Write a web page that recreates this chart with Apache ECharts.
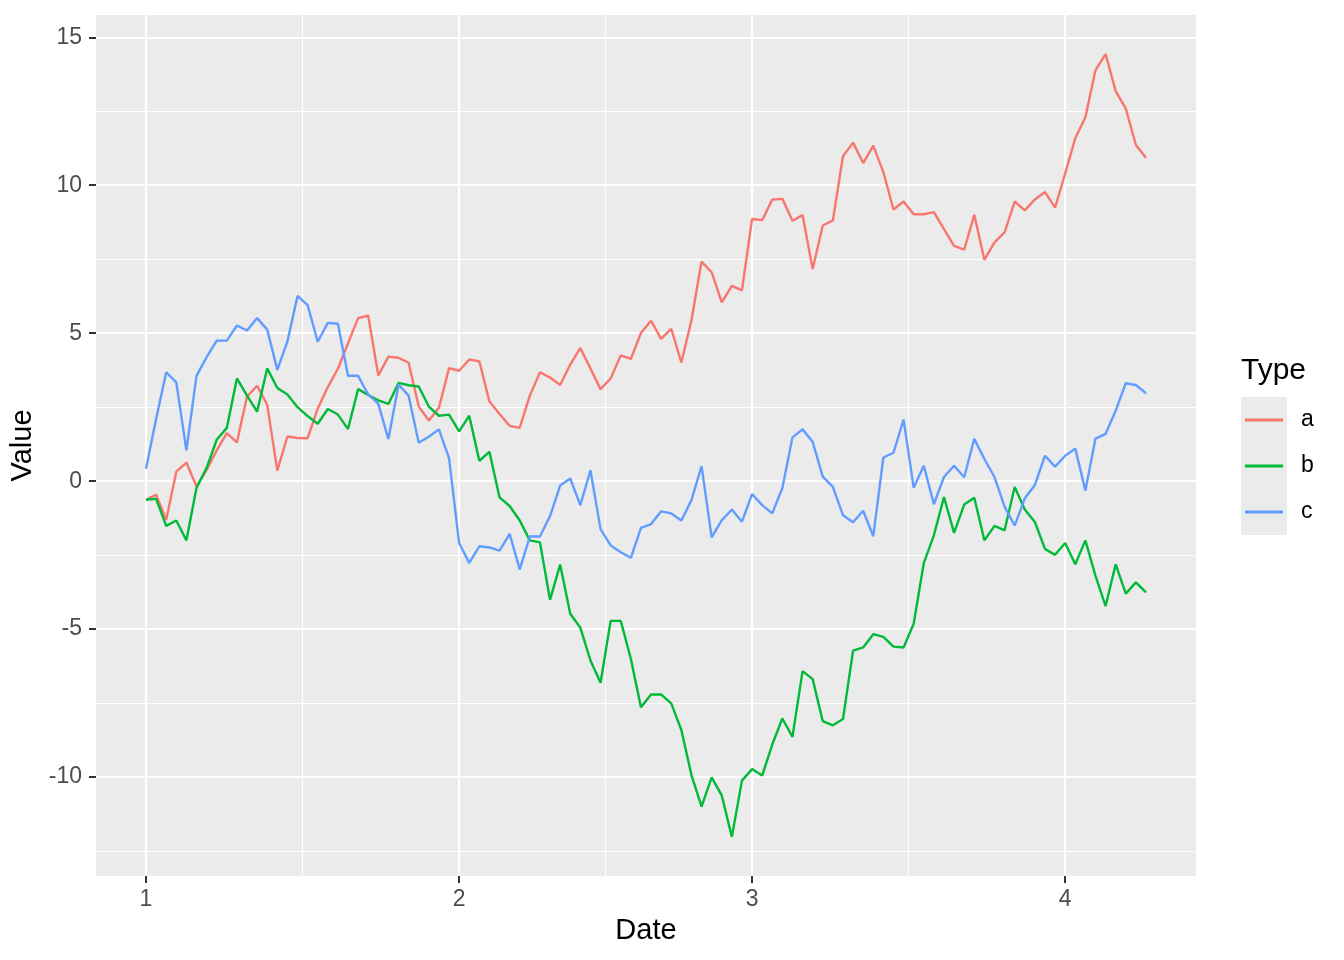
<!DOCTYPE html>
<html>
<head>
<meta charset="utf-8">
<script src="https://cdn.jsdelivr.net/npm/echarts@6/dist/echarts.min.js"></script>
<style>
html,body{margin:0;padding:0;background:#ffffff;}
#chart{width:1344px;height:960px;}
</style>
</head>
<body>
<div id="chart"></div>
<script>
// ---- data ----
const typeNames = ['a', 'b', 'c'];
const typeColors = ['#F8766D', '#00BA38', '#619CFF'];
// x = day offset from 2020-01-01 (one point per day)
const monthTickDays = [0, 31, 60, 91];
const monthTickLabels = ['1', '2', '3', '4'];
const midMonthDays = [15.5, 45.5, 75.5];
const valueTicks = [-10, -5, 0, 5, 10, 15];
const valueMinorTicks = [-12.5, -7.5, -2.5, 2.5, 7.5, 12.5];

const seriesA = [
  -0.63, -0.46, -1.31, 0.32, 0.63, -0.18, 0.38, 1.04, 1.62, 1.31,
  2.86, 3.22, 2.58, 0.36, 1.51, 1.46, 1.45, 2.45, 3.18, 3.80,
  4.66, 5.51, 5.59, 3.57, 4.21, 4.17, 4.00, 2.52, 2.05, 2.48,
  3.82, 3.73, 4.11, 4.05, 2.69, 2.27, 1.87, 1.80, 2.89, 3.68,
  3.50, 3.25, 3.94, 4.50, 3.81, 3.11, 3.47, 4.25, 4.13, 5.01,
  5.42, 4.81, 5.15, 4.01, 5.44, 7.42, 7.06, 6.04, 6.60, 6.45,
  8.86, 8.82, 9.52, 9.54, 8.80, 8.99, 7.17, 8.64, 8.81, 10.98,
  11.44, 10.75, 11.34, 10.44, 9.18, 9.45, 9.02, 9.02, 9.09, 8.52,
  7.95, 7.82, 9.00, 7.48, 8.07, 8.41, 9.45, 9.15, 9.52, 9.77,
  9.24, 10.40, 11.59, 12.30, 13.89, 14.43, 13.18, 12.59, 11.36, 10.93
];
const seriesB = [
  -0.63, -0.60, -1.51, -1.33, -2.00, -0.23, 0.45, 1.40, 1.80, 3.47,
  2.89, 2.35, 3.81, 3.15, 2.93, 2.50, 2.20, 1.94, 2.44, 2.25,
  1.76, 3.11, 2.91, 2.73, 2.61, 3.32, 3.24, 3.20, 2.52, 2.21,
  2.25, 1.68, 2.21, 0.69, 0.99, -0.55, -0.84, -1.33, -2.00, -2.07,
  -4.01, -2.82, -4.48, -4.95, -6.06, -6.81, -4.72, -4.72, -6.00, -7.64,
  -7.21, -7.21, -7.51, -8.41, -9.93, -11.00, -10.01, -10.62, -12.02, -10.12,
  -9.73, -9.95, -8.90, -8.02, -8.64, -6.42, -6.69, -8.11, -8.25, -8.04,
  -5.73, -5.62, -5.17, -5.26, -5.59, -5.62, -4.82, -2.77, -1.83, -0.54,
  -1.75, -0.79, -0.56, -2.00, -1.51, -1.66, -0.20, -0.96, -1.38, -2.29,
  -2.49, -2.09, -2.81, -2.00, -3.20, -4.22, -2.81, -3.80, -3.42, -3.76
];
const seriesC = [
  0.42, 2.10, 3.68, 3.34, 1.04, 3.56, 4.19, 4.75, 4.75, 5.26,
  5.09, 5.51, 5.12, 3.76, 4.72, 6.26, 5.95, 4.71, 5.35, 5.32,
  3.56, 3.56, 2.93, 2.61, 1.42, 3.26, 2.89, 1.30, 1.50, 1.75,
  0.78, -2.09, -2.76, -2.20, -2.24, -2.35, -1.78, -2.98, -1.87, -1.87,
  -1.18, -0.15, 0.09, -0.81, 0.37, -1.62, -2.17, -2.40, -2.59, -1.58,
  -1.45, -1.02, -1.09, -1.33, -0.64, 0.51, -1.90, -1.32, -0.96, -1.37,
  -0.44, -0.81, -1.09, -0.23, 1.48, 1.75, 1.33, 0.15, -0.19, -1.15,
  -1.39, -1.00, -1.86, 0.80, 0.96, 2.08, -0.22, 0.52, -0.78, 0.14,
  0.52, 0.13, 1.43, 0.75, 0.14, -0.86, -1.50, -0.58, -0.13, 0.86,
  0.49, 0.86, 1.10, -0.32, 1.44, 1.60, 2.38, 3.31, 3.25, 2.97
];
const seriesValues = [seriesA, seriesB, seriesC];

// ---- chart ----
const FONT = '"Liberation Sans", Arial, Helvetica, sans-serif';
const nDays = seriesA.length;
const xSpan = nDays - 1;
const allVals = seriesA.concat(seriesB, seriesC);
const yLo = Math.min.apply(null, allVals), yHi = Math.max.apply(null, allVals);
const yPad = (yHi - yLo) * 0.05;

const chart = echarts.init(document.getElementById('chart'), null, {renderer: 'canvas'});

const option = {
  animation: false,
  backgroundColor: '#ffffff',
  textStyle: {fontFamily: FONT},
  title: {
    text: 'Type',
    left: 1236, top: 351,
    textStyle: {fontFamily: FONT, fontSize: 30, fontWeight: 'normal', color: '#000000'}
  },
  graphic: [{
    type: 'rect', left: 1241, top: 397, z: -1,
    shape: {width: 46, height: 138},
    style: {fill: '#EBEBEB'}
  }],
  legend: {
    data: typeNames,
    orient: 'vertical',
    left: 1245, top: 405.5,
    padding: 0,
    itemWidth: 38, itemHeight: 3,
    itemGap: 17,
    icon: 'rect',
    textStyle: {fontFamily: FONT, fontSize: 23, color: '#000000', lineHeight: 23, padding: [6, 0, 0, 13]}
  },
  grid: {
    left: 96, top: 15, width: 1100, height: 861,
    show: true, backgroundColor: '#EBEBEB', borderWidth: 0,
    containLabel: false
  },
  xAxis: [{
    type: 'value',
    min: -xSpan * 0.05, max: xSpan * 1.05,
    name: 'Date', nameLocation: 'middle', nameGap: 40,
    nameTextStyle: {fontFamily: FONT, fontSize: 29, color: '#000000'},
    axisLine: {show: false, onZero: false},
    axisTick: {show: true, length: 7, customValues: monthTickDays, lineStyle: {color: '#333333', width: 2}},
    axisLabel: {
      customValues: monthTickDays, margin: 12,
      fontFamily: FONT, fontSize: 23, color: '#4D4D4D',
      formatter: function (v) { const k = monthTickDays.indexOf(v); return k >= 0 ? monthTickLabels[k] : ''; }
    },
    splitLine: {show: true, lineStyle: {color: '#FFFFFF', width: 2.2}}
  }, {
    type: 'value', gridIndex: 0, position: 'top',
    min: -xSpan * 0.05, max: xSpan * 1.05,
    axisLine: {show: false, onZero: false},
    axisTick: {show: false, customValues: midMonthDays},
    axisLabel: {show: false, customValues: midMonthDays},
    splitLine: {show: true, lineStyle: {color: '#FFFFFF', width: 1.1}}
  }],
  yAxis: [{
    type: 'value',
    min: yLo - yPad, max: yHi + yPad,
    name: 'Value', nameLocation: 'middle', nameGap: 49, nameRotate: 90,
    nameTextStyle: {fontFamily: FONT, fontSize: 29, color: '#000000'},
    axisLine: {show: false, onZero: false},
    axisTick: {show: true, length: 7, customValues: valueTicks, lineStyle: {color: '#333333', width: 2}},
    axisLabel: {customValues: valueTicks, margin: 14, fontFamily: FONT, fontSize: 23, color: '#4D4D4D'},
    splitLine: {show: true, lineStyle: {color: '#FFFFFF', width: 2.2}}
  }, {
    type: 'value', gridIndex: 0, position: 'right',
    min: yLo - yPad, max: yHi + yPad,
    axisLine: {show: false, onZero: false},
    axisTick: {show: false, customValues: valueMinorTicks},
    axisLabel: {show: false, customValues: valueMinorTicks},
    splitLine: {show: true, lineStyle: {color: '#FFFFFF', width: 1.1}}
  }],
  series: typeNames.map(function (name, k) {
    return {
      name: name,
      type: 'line',
      xAxisIndex: 0, yAxisIndex: 0,
      showSymbol: false,
      symbol: 'none',
      color: typeColors[k],
      lineStyle: {color: typeColors[k], width: 2.4},
      data: seriesValues[k].map(function (v, i) { return [i, v]; }),
      z: 3
    };
  })
};
chart.setOption(option);
</script>
</body>
</html>
